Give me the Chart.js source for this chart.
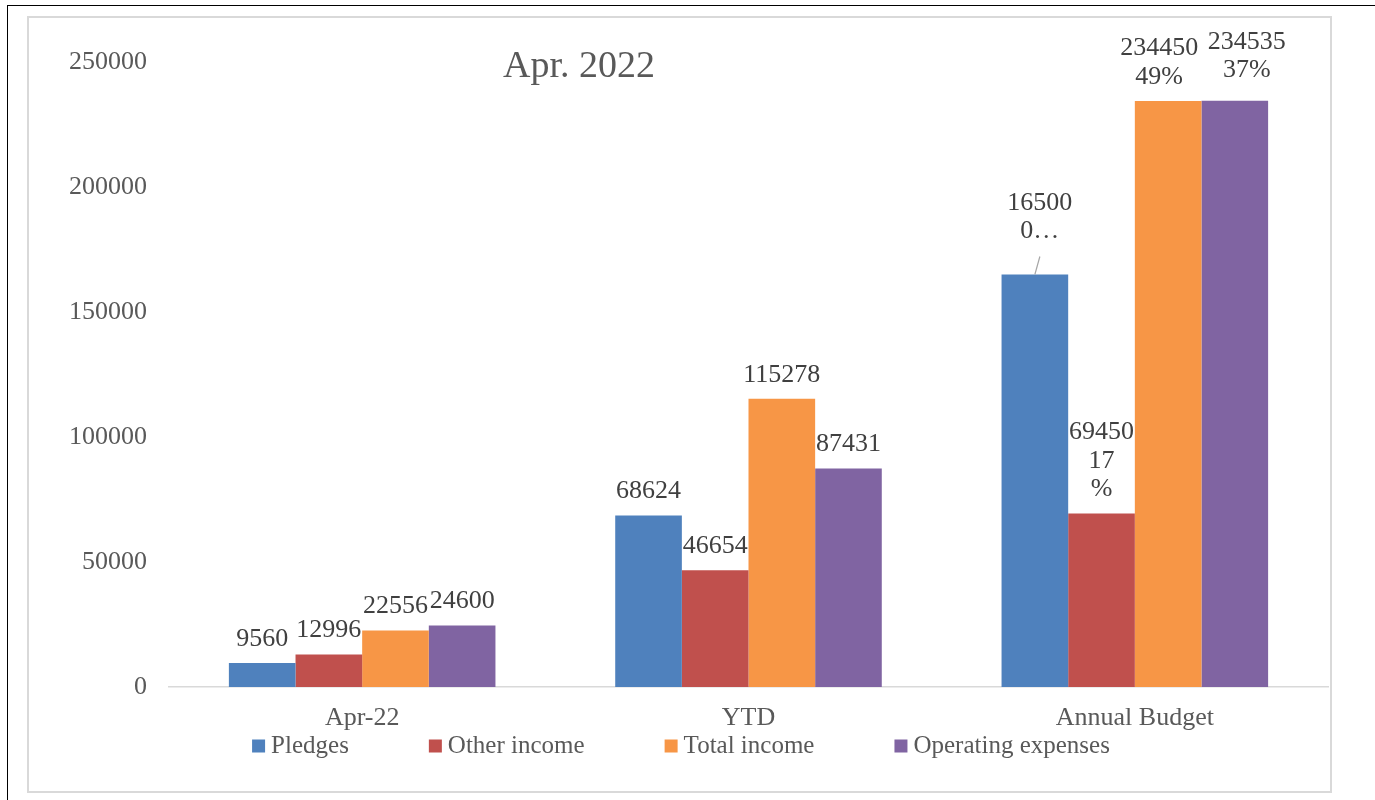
<!DOCTYPE html>
<html>
<head>
<meta charset="utf-8">
<title>Apr. 2022</title>
<script src="https://cdn.jsdelivr.net/npm/chart.js@4.4.0/dist/chart.umd.min.js"></script>
<style>
  html, body { margin: 0; padding: 0; background: #fff; }
  #page { position: relative; width: 1375px; height: 800px; overflow: hidden; }
  #outer { position: absolute; left: 7px; top: 5px; right: -10px; bottom: -10px;
           border-left: 1.5px solid #000; border-top: 1.5px solid #000; }
  #frame { position: absolute; left: 27px; top: 16px; width: 1301px; height: 773px;
           border: 2px solid #d9d9d9; }
  #chart { position: absolute; left: 0; top: 0; }
</style>
</head>
<body>
<div id="page">
  <div id="outer"></div>
  <div id="frame"></div>
  <canvas id="chart" width="1375" height="800"></canvas>
</div>
<script>
const categories = ['Apr-22', 'YTD', 'Annual Budget'];
const seriesNames = ['Pledges', 'Other income', 'Total income', 'Operating expenses'];
const pledges = [9560, 68624, 165000];
const otherIncome = [12996, 46654, 69450];
const totalIncome = [22556, 115278, 234450];
const operatingExpenses = [24600, 87431, 234535];
const yTicks = [0, 50000, 100000, 150000, 200000, 250000];
// Annual Budget labels carry a share and get wrapped/cut like in the original
const budgetLabelLines = [['16500', '0…'], ['69450', '17', '%'], ['234450', '49%'], ['234535', '37%']];
const chartTitle = 'Apr. 2022';

const seriesColors = ['#4f81bd', '#c0504d', '#f79646', '#8064a2'];
const FONT = '"Liberation Serif", "DejaVu Serif", serif';

// value labels above each bar
const barLabels = {
  id: 'barLabels',
  afterDatasetsDraw(chart, args, opts) {
    const ctx = chart.ctx;
    ctx.save();
    ctx.font = '26px ' + FONT;
    ctx.fillStyle = '#404040';
    ctx.textAlign = 'center';
    ctx.textBaseline = 'middle';
    chart.data.datasets.forEach((ds, i) => {
      chart.getDatasetMeta(i).data.forEach((bar, j) => {
        const isBudget = j === 2;
        const lines = isBudget ? budgetLabelLines[i] : [String(ds.data[j])];
        const [dx, dy] = isBudget ? opts.budgetShift[i] : [0, 0];
        const x = bar.x + dx;
        const yLast = bar.y - opts.gap + dy;
        lines.forEach((t, k) => {
          ctx.fillText(t, x, yLast - (lines.length - 1 - k) * opts.lineHeight);
        });
        if (dy < -10) {
          // leader line back to the bar
          ctx.strokeStyle = '#a6a6a6';
          ctx.lineWidth = 1.2;
          ctx.beginPath();
          ctx.moveTo(x, yLast + 25);
          ctx.lineTo(bar.x, bar.y);
          ctx.stroke();
        }
      });
    });
    ctx.restore();
  }
};

// title sits inside the plot, left of centre
const innerTitle = {
  id: 'innerTitle',
  afterDraw(chart, args, opts) {
    const ctx = chart.ctx;
    ctx.save();
    ctx.font = '38px ' + FONT;
    ctx.fillStyle = '#595959';
    ctx.textAlign = 'center';
    ctx.textBaseline = 'alphabetic';
    ctx.fillText(opts.text, opts.x, opts.y);
    ctx.restore();
  }
};

// excel style legend: small squares, wide gaps, tucked under the axis labels
const bottomLegend = {
  id: 'bottomLegend',
  afterDraw(chart, args, opts) {
    const ctx = chart.ctx;
    ctx.save();
    ctx.font = '25px ' + FONT;
    ctx.textBaseline = 'middle';
    ctx.textAlign = 'left';
    const items = chart.data.datasets.map(ds => ({
      text: ds.label, color: ds.backgroundColor, w: ctx.measureText(ds.label).width
    }));
    const box = 13, gapText = 6, gapItem = 80;
    const total = items.reduce((s, it) => s + box + gapText + it.w, 0) + gapItem * (items.length - 1);
    let x = opts.centerX - total / 2;
    items.forEach(it => {
      ctx.fillStyle = it.color;
      ctx.fillRect(x, opts.y - box / 2, box, box);
      ctx.fillStyle = '#595959';
      ctx.fillText(it.text, x + box + gapText, opts.y);
      x += box + gapText + it.w + gapItem;
    });
    ctx.restore();
  }
};

const seriesData = [pledges, otherIncome, totalIncome, operatingExpenses];

new Chart(document.getElementById('chart').getContext('2d'), {
  type: 'bar',
  data: {
    labels: categories,
    datasets: seriesNames.map((name, i) => ({
      label: name,
      data: seriesData[i],
      backgroundColor: seriesColors[i],
      borderWidth: 0,
      categoryPercentage: 0.69,
      barPercentage: 1
    }))
  },
  options: {
    responsive: false,
    animation: false,
    layout: { padding: { left: 29, right: 47, top: 62, bottom: 63 } },
    scales: {
      x: {
        grid: { display: false, drawTicks: false },
        border: { display: true, color: '#d9d9d9', width: 1.5 },
        ticks: { padding: 16, color: '#595959', font: { family: FONT, size: 26 } },
        afterFit: s => { s.height = 50; }
      },
      y: {
        min: 0,
        max: 250000,
        grid: { display: false, drawTicks: false },
        border: { display: false },
        ticks: { padding: 22, color: '#595959', font: { family: FONT, size: 26 }, callback: v => String(v) },
        afterBuildTicks: s => { s.ticks = yTicks.map(v => ({ value: v })); },
        afterFit: s => { s.width = 140; }
      }
    },
    plugins: {
      legend: { display: false },
      tooltip: { enabled: false },
      barLabels: { gap: 24, lineHeight: 28.5, budgetShift: [[5, -19], [0, 0], [-9, 0], [12, -6]] },
      innerTitle: { text: chartTitle, x: 579, y: 77 },
      bottomLegend: { centerX: 681, y: 746 }
    }
  },
  plugins: [barLabels, innerTitle, bottomLegend]
});
</script>
</body>
</html>
